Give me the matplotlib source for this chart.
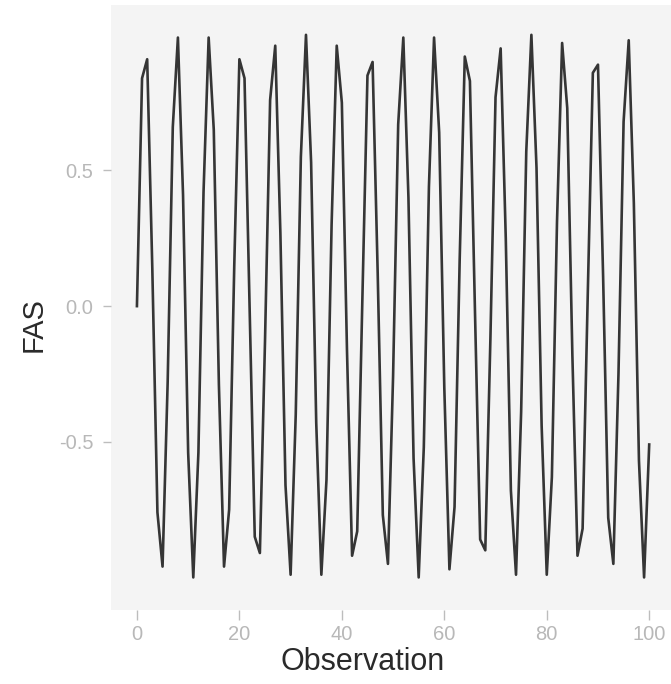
import numpy as np
import matplotlib
matplotlib.use('Agg')
import matplotlib.pyplot as plt

# observation index and FAS value
obs = list(range(0, 101))
fas = [0.00, 0.84, 0.91, 0.14, -0.76, -0.96, -0.28, 0.66, 0.99, 0.41,
       -0.54, -1.00, -0.54, 0.42, 0.99, 0.65, -0.29, -0.96, -0.75, 0.15,
       0.91, 0.84, -0.01, -0.85, -0.91, -0.13, 0.76, 0.96, 0.27, -0.66,
       -0.99, -0.40, 0.55, 1.00, 0.53, -0.43, -0.99, -0.64, 0.30, 0.96,
       0.75, -0.16, -0.92, -0.83, 0.02, 0.85, 0.90, 0.12, -0.77, -0.95,
       -0.26, 0.67, 0.99, 0.40, -0.56, -1.00, -0.52, 0.44, 0.99, 0.64,
       -0.30, -0.97, -0.74, 0.17, 0.92, 0.83, -0.03, -0.86, -0.90, -0.12,
       0.77, 0.95, 0.25, -0.68, -0.99, -0.39, 0.57, 1.00, 0.51, -0.44,
       -0.99, -0.63, 0.31, 0.97, 0.73, -0.18, -0.92, -0.82, 0.04, 0.86,
       0.89, 0.11, -0.78, -0.95, -0.25, 0.68, 0.98, 0.38, -0.57, -1.00,
       -0.51]
xticks = [0, 20, 40, 60, 80, 100]
yticks = [-0.5, 0.0, 0.5]

plt.rcParams['font.family'] = ['Liberation Sans', 'DejaVu Sans']

fig = plt.figure(figsize=(6.71, 6.84), dpi=100)
ax = fig.add_axes([0.1659, 0.1082, 0.8398, 0.8845])
ax.set_facecolor('#f4f4f4')
ax.plot(obs, fas, color='#353535', linewidth=1.9)

ax.set_xlim(-5, 105)
ax.set_ylim(-1.12, 1.11)
ax.set_xticks(xticks)
ax.set_xticklabels([str(t) for t in xticks])
ax.set_yticks(yticks)
ax.set_yticklabels(['-0.5', '0.0', '0.5'])
for s in ax.spines.values():
  s.set_visible(False)
ax.tick_params(axis='both', colors='#bdbdbd', labelcolor='#b8b8b8',
               labelsize=14.5, width=1)
ax.tick_params(axis='x', length=7, pad=4)
ax.tick_params(axis='y', length=6, pad=7)

ax.set_xlabel('Observation', fontsize=22, color='#2a2a2a')
ax.xaxis.set_label_coords(0.4468, -0.086)
ax.xaxis.label.set_va('center')
ax.set_ylabel('FAS', fontsize=21, color='#2a2a2a')
ax.yaxis.set_label_coords(-0.1372, 0.471)
ax.yaxis.label.set_va('center')

fig.savefig('out.png', dpi=100)
